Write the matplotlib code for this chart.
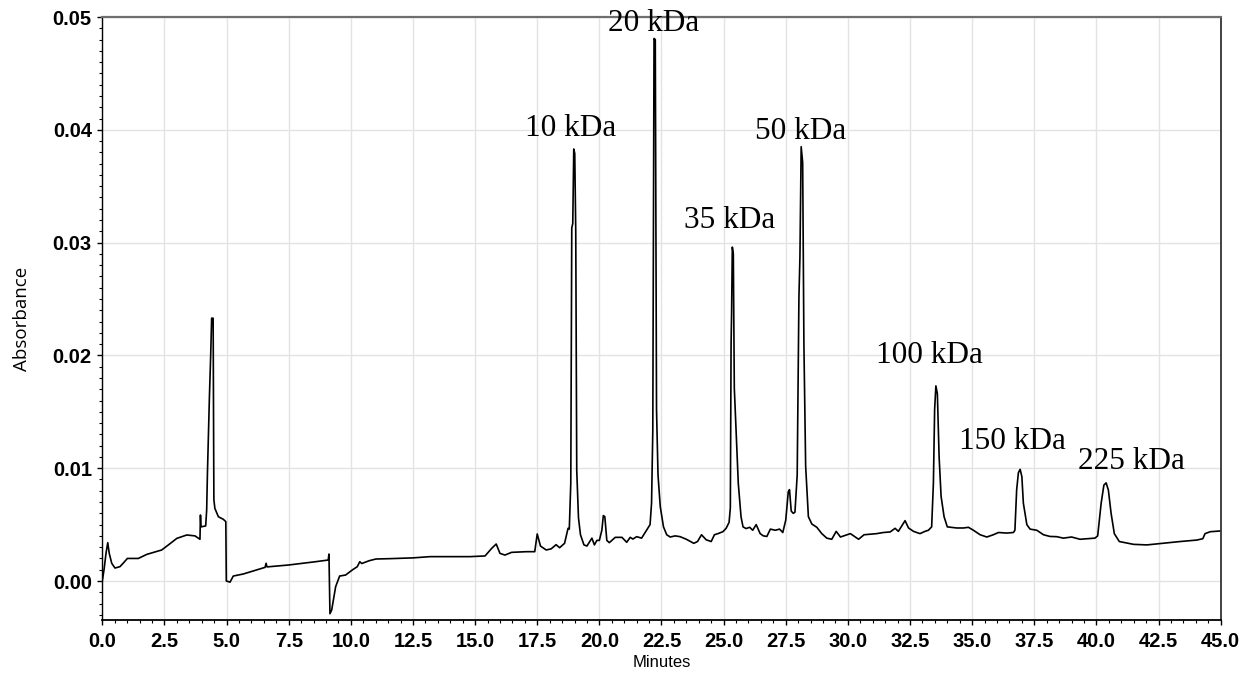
import matplotlib
matplotlib.use("Agg")
import matplotlib.pyplot as plt
from matplotlib.ticker import MultipleLocator, FormatStrFormatter

# ---- data (minutes, absorbance AU) ----
minutes = [
    0.00, 0.07, 0.15, 0.22, 0.28, 0.38, 0.51, 0.71, 0.85, 1.01, 1.45, 1.79, 2.39, 2.66,
    3.00, 3.40, 3.73, 3.93, 3.95, 3.97, 4.16, 4.20, 4.23, 4.27, 4.31, 4.36, 4.40, 4.46,
    4.49, 4.53, 4.67, 4.87, 4.97, 4.99, 5.14, 5.27, 5.67, 6.21, 6.55, 6.59, 6.63, 7.50,
    8.58, 9.09, 9.12, 9.16, 9.23, 9.39, 9.55, 9.79, 10.06, 10.26, 10.36, 10.44, 10.74,
    11.01, 11.55, 12.50, 13.19, 14.80, 15.40, 15.67, 15.85, 16.00, 16.20, 16.47, 17.07,
    17.40, 17.50, 17.63, 17.86, 18.06, 18.26, 18.40, 18.60, 18.74, 18.79, 18.85, 18.89,
    18.93, 18.97, 19.01, 19.05, 19.09, 19.16, 19.24, 19.38, 19.50, 19.70, 19.80, 19.90,
    20.00, 20.10, 20.16, 20.22, 20.30, 20.40, 20.50, 20.64, 20.91, 21.10, 21.24, 21.35,
    21.50, 21.70, 21.84, 21.97, 22.04, 22.10, 22.15, 22.20, 22.25, 22.30, 22.36, 22.45,
    22.58, 22.71, 22.85, 23.05, 23.25, 23.50, 23.80, 23.95, 24.11, 24.30, 24.50, 24.63,
    24.77, 24.97, 25.10, 25.22, 25.27, 25.30, 25.32, 25.35, 25.39, 25.43, 25.50, 25.59,
    25.70, 25.78, 25.90, 26.05, 26.17, 26.31, 26.47, 26.60, 26.74, 26.88, 27.08, 27.25,
    27.38, 27.50, 27.60, 27.65, 27.72, 27.80, 27.87, 27.96, 28.03, 28.07, 28.12, 28.18,
    28.23, 28.30, 28.41, 28.55, 28.75, 28.95, 29.15, 29.35, 29.53, 29.70, 29.90, 30.10,
    30.30, 30.43, 30.65, 30.90, 31.16, 31.43, 31.70, 31.90, 32.03, 32.30, 32.44, 32.64,
    32.90, 33.10, 33.24, 33.37, 33.44, 33.49, 33.54, 33.60, 33.67, 33.75, 33.87, 34.00,
    34.38, 34.65, 34.85, 35.05, 35.32, 35.59, 35.85, 36.06, 36.39, 36.66, 36.72, 36.79,
    36.86, 36.93, 37.00, 37.06, 37.20, 37.33, 37.60, 37.87, 38.13, 38.40, 38.67, 39.00,
    39.34, 39.94, 40.05, 40.19, 40.30, 40.39, 40.48, 40.59, 40.72, 40.92, 41.15, 41.49,
    42.03, 42.70, 43.37, 44.04, 44.28, 44.37, 44.58, 44.95,
]
absorbance = [
    0.0000, 0.0010, 0.00245, 0.0034, 0.00245, 0.00157, 0.00115, 0.00127, 0.0016, 0.0020,
    0.0020, 0.00236, 0.00275, 0.0032, 0.00378, 0.00408, 0.0040, 0.0037, 0.00585, 0.0048,
    0.00488, 0.0063, 0.0095, 0.0131, 0.0163, 0.0199, 0.0233, 0.0233, 0.0072, 0.00644,
    0.0057, 0.00547, 0.00526, 0.0000, -0.0001, 0.00044, 0.00062, 0.00098, 0.00121, 0.00157,
    0.00125, 0.00142, 0.00171, 0.00186, 0.00239, -0.0029, -0.00257, -0.0005, 0.00044,
    0.00053, 0.00098, 0.00127, 0.00171, 0.00155, 0.0018, 0.00195, 0.00198, 0.00205, 0.00216,
    0.00216, 0.00222, 0.0029, 0.00328, 0.00245, 0.0023, 0.00254, 0.0026, 0.0026, 0.00417,
    0.0031, 0.00275, 0.00285, 0.00322, 0.00295, 0.00334, 0.00467, 0.0046, 0.00865, 0.0313,
    0.0317, 0.0383, 0.0379, 0.0310, 0.0098, 0.0056, 0.0041, 0.0032, 0.0031, 0.0038, 0.0032,
    0.0036, 0.0036, 0.0045, 0.0058, 0.0057, 0.0036, 0.0034, 0.0036, 0.00387, 0.00387,
    0.00343, 0.00387, 0.00372, 0.00393, 0.0038, 0.0043, 0.00476, 0.0050, 0.0069, 0.0133,
    0.0481, 0.0480, 0.0152, 0.0094, 0.0066, 0.0048, 0.0041, 0.0039, 0.0040, 0.00393,
    0.0037, 0.00334, 0.0035, 0.0041, 0.00365, 0.0035, 0.0041, 0.0042, 0.00437, 0.00467,
    0.0052, 0.0065, 0.0210, 0.0237, 0.0296, 0.0290, 0.0171, 0.0133, 0.00865, 0.0057,
    0.0048, 0.00465, 0.00476, 0.0045, 0.0050, 0.0042, 0.0040, 0.00395, 0.0046, 0.0045,
    0.0046, 0.0043, 0.0054, 0.0079, 0.0081, 0.0062, 0.0060, 0.0061, 0.0094, 0.0252,
    0.0287, 0.0385, 0.0371, 0.0210, 0.0102, 0.0057, 0.00505, 0.00476, 0.0042, 0.0038,
    0.0037, 0.0044, 0.0039, 0.00405, 0.0042, 0.0039, 0.0037, 0.0041, 0.00415, 0.0042,
    0.0043, 0.00435, 0.00467, 0.0044, 0.00535, 0.0047, 0.0044, 0.0042, 0.0044, 0.0045,
    0.0048, 0.00866, 0.0152, 0.0173, 0.0166, 0.0110, 0.0075, 0.0057, 0.0048, 0.0047,
    0.0047, 0.00476, 0.0045, 0.0041, 0.0039, 0.0041, 0.0043, 0.00425, 0.0043, 0.0045,
    0.00807, 0.0096, 0.0099, 0.00925, 0.0069, 0.0050, 0.0046, 0.0045, 0.0041, 0.00395,
    0.00393, 0.0038, 0.0039, 0.0037, 0.0038, 0.0040, 0.0069, 0.0085, 0.0087, 0.00807,
    0.0060, 0.0042, 0.0035, 0.0034, 0.00325, 0.0032, 0.00335, 0.0035, 0.00363, 0.00375,
    0.0042, 0.00437, 0.00443,
]

peak_labels = ["10 kDa", "20 kDa", "35 kDa", "50 kDa", "100 kDa", "150 kDa", "225 kDa"]
label_minutes = [18.86, 22.2, 25.26, 28.08, 33.27, 36.64, 41.42]
label_absorbance = [0.03945, 0.04876, 0.0313, 0.0392, 0.01935, 0.0117, 0.00993]

x_ticks = [0.0, 2.5, 5.0, 7.5, 10.0, 12.5, 15.0, 17.5, 20.0, 22.5, 25.0, 27.5, 30.0,
           32.5, 35.0, 37.5, 40.0, 42.5, 45.0]
y_ticks = [0.00, 0.01, 0.02, 0.03, 0.04, 0.05]

# ---- figure ----
fig = plt.figure(figsize=(12.52, 6.78), dpi=100)
ax = fig.add_axes([0.0817, 0.0855, 0.8933, 0.8894])

ax.plot(minutes, absorbance, color="black", linewidth=1.2, zorder=3)

ax.set_xlim(0, 45)
ax.set_ylim(-0.00346, 0.05)
ax.set_xticks(x_ticks)
ax.set_yticks(y_ticks)
ax.xaxis.set_major_formatter(FormatStrFormatter("%.1f"))
ax.yaxis.set_major_formatter(FormatStrFormatter("%.2f"))
ax.xaxis.set_minor_locator(MultipleLocator(0.5))
ax.yaxis.set_minor_locator(MultipleLocator(0.001))

ax.grid(True, which="major", color="#e3e3e3", linewidth=1.0, zorder=0)
ax.set_axisbelow(True)

for lab in ax.get_xticklabels() + ax.get_yticklabels():
    lab.set_fontfamily("Liberation Sans")
    lab.set_fontweight("bold")
    lab.set_fontsize(14.5)

ax.tick_params(axis="both", which="major", direction="out", length=3.5, width=1.0,
               color="black", pad=4)
ax.tick_params(axis="x", which="major", pad=5)
ax.tick_params(axis="both", which="minor", direction="out", length=2.0, width=0.8,
               color="black")
ax.tick_params(top=False, right=False)

ax.spines["top"].set_color("#6e6e6e")
ax.spines["top"].set_linewidth(1.6)
ax.spines["right"].set_color("#333333")
ax.spines["right"].set_linewidth(1.3)
ax.spines["left"].set_color("black")
ax.spines["left"].set_linewidth(1.0)
ax.spines["bottom"].set_color("black")
ax.spines["bottom"].set_linewidth(1.3)

ax.set_xlabel("Minutes", family="Liberation Sans", fontsize=12, labelpad=3)
ax.set_ylabel("Absorbance", family="Open Sans", fontsize=13.5, labelpad=16)

for text, tx, ty in zip(peak_labels, label_minutes, label_absorbance):
    ax.text(tx, ty, text, family="Liberation Serif", fontsize=22.5,
            ha="center", va="baseline", clip_on=False, zorder=4)

fig.savefig("out.png", dpi=100)
